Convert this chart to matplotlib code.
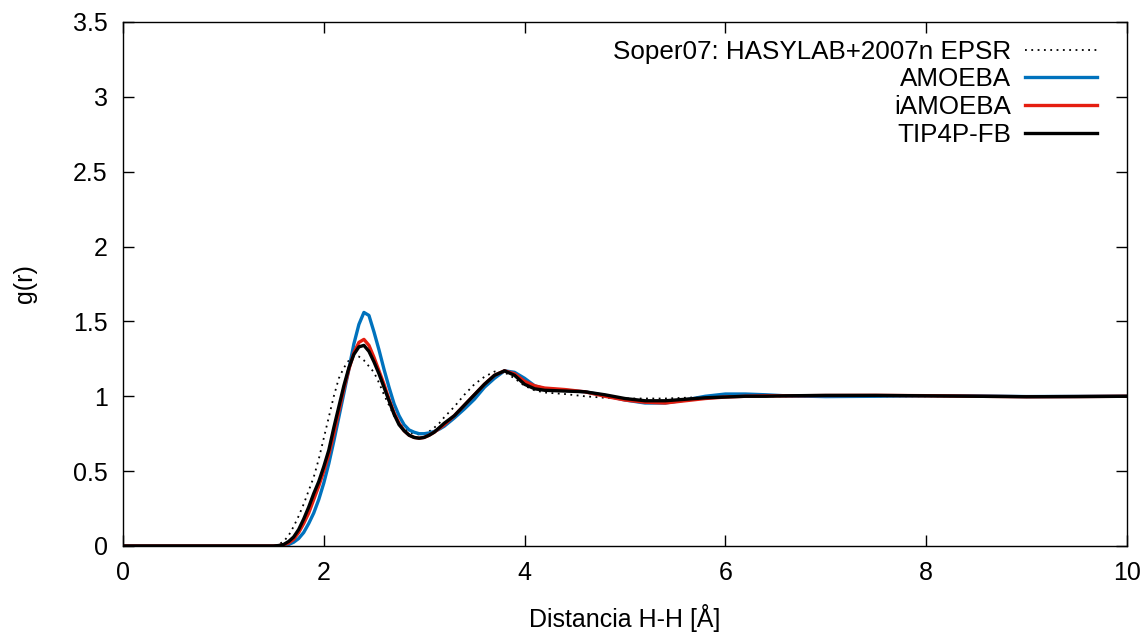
import matplotlib.pyplot as plt

plt.rcParams['font.family'] = ['Liberation Sans', 'DejaVu Sans']

# distance grid (Å)
r = [0.0, 0.5, 1.0, 1.4,
     1.5, 1.55, 1.6, 1.65, 1.7, 1.75, 1.8, 1.85, 1.9, 1.95,
     2.0, 2.05, 2.1, 2.15, 2.2, 2.25, 2.3, 2.35, 2.4, 2.45,
     2.5, 2.55, 2.6, 2.65, 2.7, 2.75, 2.8, 2.85, 2.9, 2.95,
     3.0, 3.05, 3.1, 3.15, 3.2,
     3.3, 3.4, 3.5, 3.6, 3.7, 3.8, 3.9, 4.0, 4.1, 4.2,
     4.4, 4.6, 4.8, 5.0, 5.2, 5.4, 5.6, 5.8, 6.0, 6.2, 6.4, 6.6,
     7.0, 7.5, 8.0, 8.5, 9.0, 9.5, 10.0]

g_soper = [0, 0, 0, 0,
           0.0, 0.01, 0.03, 0.07, 0.13, 0.20, 0.28, 0.37, 0.46, 0.58,
           0.72, 0.86, 1.0, 1.12, 1.19, 1.24, 1.265, 1.265, 1.24, 1.20,
           1.16, 1.09, 1.01, 0.94, 0.87, 0.82, 0.785, 0.76, 0.75, 0.745,
           0.75, 0.765, 0.79, 0.82, 0.86,
           0.93, 1.01, 1.08, 1.13, 1.165, 1.16, 1.12, 1.07, 1.04, 1.025,
           1.015, 1.0, 0.99, 0.985, 0.985, 0.985, 0.99, 0.995, 1.0, 1.0, 1.0, 1.0,
           1.0, 1.0, 1.0, 1.0, 1.0, 1.0, 1.0]

g_amoeba = [0, 0, 0, 0,
            0.0, 0.001, 0.004, 0.01, 0.025, 0.05, 0.09, 0.15, 0.22, 0.31,
            0.42, 0.55, 0.70, 0.86, 1.02, 1.18, 1.35, 1.48, 1.56, 1.54,
            1.43, 1.31, 1.18, 1.06, 0.95, 0.87, 0.81, 0.775, 0.76, 0.75,
            0.75, 0.755, 0.765, 0.78, 0.80,
            0.855, 0.915, 0.98, 1.06, 1.12, 1.17, 1.16, 1.12, 1.07, 1.05,
            1.04, 1.03, 1.005, 0.975, 0.955, 0.955, 0.975, 1.0, 1.015, 1.015, 1.01, 1.003,
            0.998, 1.0, 1.004, 1.002, 0.998, 0.999, 1.0]

g_iamoeba = [0, 0, 0, 0,
             0.0, 0.002, 0.008, 0.02, 0.045, 0.09, 0.15, 0.22, 0.31, 0.40,
             0.50, 0.61, 0.75, 0.90, 1.05, 1.18, 1.29, 1.36, 1.38, 1.34,
             1.26, 1.17, 1.08, 0.98, 0.89, 0.82, 0.77, 0.74, 0.725, 0.72,
             0.725, 0.74, 0.76, 0.785, 0.81,
             0.87, 0.94, 1.01, 1.08, 1.14, 1.17, 1.15, 1.10, 1.07, 1.055,
             1.045, 1.03, 1.0, 0.975, 0.96, 0.955, 0.97, 0.985, 0.995, 1.0, 1.003, 1.003,
             1.005, 1.006, 1.004, 1.0, 0.997, 0.998, 1.0]

g_tip4pfb = [0, 0, 0, 0,
             0.0, 0.003, 0.01, 0.03, 0.06, 0.11, 0.18, 0.26, 0.35, 0.43,
             0.53, 0.64, 0.79, 0.93, 1.07, 1.19, 1.28, 1.33, 1.34, 1.30,
             1.23, 1.15, 1.06, 0.97, 0.88, 0.81, 0.77, 0.74, 0.725, 0.72,
             0.725, 0.74, 0.76, 0.79, 0.82,
             0.87, 0.94, 1.01, 1.08, 1.14, 1.17, 1.14, 1.08, 1.05, 1.04,
             1.035, 1.03, 1.01, 0.985, 0.97, 0.97, 0.98, 0.99, 0.995, 1.0, 1.0, 1.003,
             1.006, 1.006, 1.003, 1.0, 0.997, 0.998, 1.0]

fig = plt.figure(figsize=(11.46, 6.32), dpi=100)
ax = fig.add_axes([0.1073, 0.1361, 0.8761, 0.8291])

ax.plot(r, g_soper, color='black', lw=1.3, linestyle=(0, (1, 2.5)),
        label='Soper07: HASYLAB+2007n EPSR')
ax.plot(r, g_amoeba, color='#0072bd', lw=2.4, label='AMOEBA')
ax.plot(r, g_iamoeba, color='#e51e10', lw=2.4, label='iAMOEBA')
ax.plot(r, g_tip4pfb, color='black', lw=2.4, label='TIP4P-FB')

ax.set_xlim(0, 10)
ax.set_ylim(0, 3.5)
ax.set_xticks([0, 2, 4, 6, 8, 10])
ax.set_yticks([0, 0.5, 1, 1.5, 2, 2.5, 3, 3.5])
ax.set_yticklabels(['0', '0.5', '1', '1.5', '2', '2.5', '3', '3.5'])
ax.tick_params(direction='in', top=True, right=True, length=8, width=1,
               labelsize=18, pad=11)
for s in ax.spines.values():
    s.set_linewidth(1)

ax.set_xlabel('Distancia H-H [Å]', fontsize=18)
ax.set_ylabel('g(r)', fontsize=18)
ax.xaxis.set_label_coords(0.5, -0.137)
ax.xaxis.label.set_va('center')
ax.yaxis.set_label_coords(-0.0976, 0.5)
ax.yaxis.label.set_va('center')

ax.legend(loc='upper right', bbox_to_anchor=(0.970, 0.966), frameon=False,
          markerfirst=False, fontsize=18.7, handlelength=2.75,
          handletextpad=0.55, labelspacing=0.14, borderaxespad=0, borderpad=0)

plt.savefig('out.png', dpi=100)
